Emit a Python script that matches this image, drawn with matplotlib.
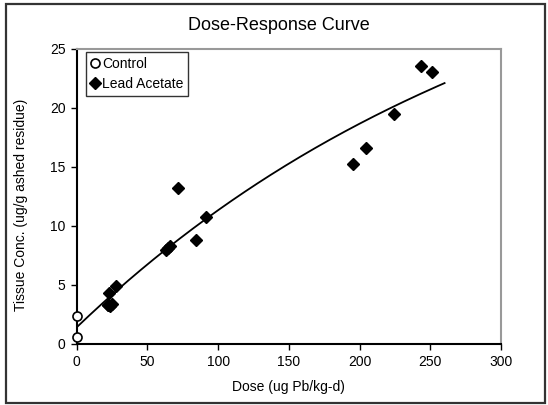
import matplotlib
matplotlib.use("Agg")
import matplotlib.pyplot as plt
import numpy as np
from matplotlib.patches import Rectangle

plt.rcParams['font.family'] = ['Liberation Sans', 'DejaVu Sans']

# Data
control_dose = [0, 0]
control_conc = [2.34, 0.56]

lead_dose = [22.0, 22.5, 23.7, 23.2, 25.4, 28.1, 63.2, 64.7, 66.2, 71.4, 84.2, 91.4,
             195.3, 204.7, 224.0, 243.2, 251.4]
lead_conc = [3.28, 3.28, 3.19, 4.27, 3.36, 4.89, 7.94, 8.14, 8.31, 13.16, 8.76, 10.71,
             15.23, 16.58, 19.46, 23.56, 23.0]

# trend line points
trend_dose = [0, 50, 62.5, 73.1, 100, 150, 167.3, 200, 256.7, 260]
trend_conc = [1.39, 6.67, 7.9, 8.93, 11.38, 15.3, 16.41, 18.67, 21.9, 22.1]

xticks = [0, 50, 100, 150, 200, 250, 300]
yticks = [0, 5, 10, 15, 20, 25]

fig = plt.figure(figsize=(5.48, 4.05), dpi=100)
ax = fig.add_axes([76.5/548, 1-343.7/405, (501.2-76.5)/548, (343.7-48.7)/405])

coef = np.polyfit(trend_dose, trend_conc, 3)
xs = np.linspace(trend_dose[0], trend_dose[-1], 200)
ax.plot(xs, np.polyval(coef, xs), color='black', lw=1.3, zorder=2)

ax.plot(control_dose, control_conc, linestyle='none', marker='o', ms=6.5,
        mfc='white', mec='black', mew=1.2, label='Control', zorder=3, clip_on=False)
ax.plot(lead_dose, lead_conc, linestyle='none', marker='D', ms=6.5,
        mfc='black', mec='black', label='Lead Acetate', zorder=3)

ax.set_xlim(0, 300)
ax.set_ylim(0, 25)
ax.set_xticks(xticks)
ax.set_yticks(yticks)
ax.tick_params(direction='out', length=4, width=1, labelsize=10, pad=4, color='black')

for s in ['left', 'bottom']:
    ax.spines[s].set_color('black')
    ax.spines[s].set_linewidth(1.5)
for s in ['top', 'right']:
    ax.spines[s].set_color('#999999')
    ax.spines[s].set_linewidth(1.5)

ax.set_xlabel('Dose (ug Pb/kg-d)', fontsize=10, labelpad=8)
ax.set_ylabel('Tissue Conc. (ug/g ashed residue)', fontsize=10, labelpad=10)
ax.yaxis.set_label_coords(-0.115, 0.47)

fig.text(279/548, 1-26/405, 'Dose-Response Curve', ha='center', va='center', fontsize=13)

leg = ax.legend(loc='upper left', bbox_to_anchor=(0.022, 0.99), fontsize=10,
                frameon=True, fancybox=False, handlelength=0.6, handletextpad=0.2,
                borderpad=0.35, labelspacing=0.45, borderaxespad=0)
leg.get_frame().set_edgecolor('black')
leg.get_frame().set_linewidth(1.0)

fig.patches.append(Rectangle((6/548, 2/405), 539/548, 399/405, transform=fig.transFigure,
                             fill=False, edgecolor='#333333', lw=1.6))

fig.savefig('out.png', dpi=100)
